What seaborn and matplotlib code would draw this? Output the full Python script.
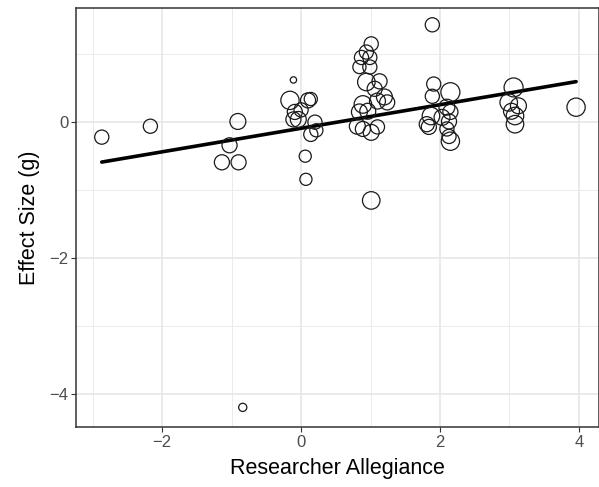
import numpy as np
import pandas as pd
import matplotlib
matplotlib.use("Agg")
import matplotlib.pyplot as plt
from matplotlib.ticker import MultipleLocator
import seaborn as sns

# study-level data
allegiance = [-2.87, -2.17, -0.91, -1.03, -1.14, -0.90, -0.84,
              -0.11, -0.16, 0.10, 0.14, -0.09, 0.00, -0.11, -0.04, 0.20, 0.22, 0.14, 0.06, 0.07,
              1.01, 0.94, 0.87, 0.99, 0.84, 0.99, 0.94, 1.13, 1.06, 1.20, 0.89, 1.10, 1.24,
              0.84, 0.96, 0.81, 0.89, 1.01, 1.10, 1.01,
              1.89, 1.91, 1.89, 2.15, 2.10, 2.15, 1.87, 2.13, 2.03, 1.81, 1.84, 2.10, 2.13, 2.15,
              3.06, 2.99, 3.13, 3.08, 3.08, 3.03, 3.96]
effect_size = [-0.22, -0.06, 0.01, -0.34, -0.59, -0.59, -4.19,
               0.62, 0.32, 0.32, 0.34, 0.15, 0.18, 0.04, 0.04, 0.00, -0.12, -0.18, -0.50, -0.84,
               1.15, 1.03, 0.95, 0.95, 0.81, 0.81, 0.59, 0.60, 0.49, 0.37, 0.26, 0.31, 0.29,
               0.15, 0.16, -0.06, -0.10, -0.15, -0.07, -1.15,
               1.43, 0.56, 0.38, 0.44, 0.22, 0.15, 0.09, 0.01, 0.07, -0.03, -0.07, -0.10, -0.21, -0.28,
               0.51, 0.29, 0.24, 0.09, -0.03, 0.16, 0.22]
weight = [6, 6, 7, 6.5, 6.5, 6.5, 3.5,
          3, 8.5, 6.5, 5.5, 6.5, 6, 6.5, 7, 6, 5.5, 6, 5, 5,
          6, 6, 6, 6, 5.5, 6, 8, 6.5, 6.5, 7, 8, 7, 6.5,
          7, 7, 7, 6.5, 7, 6, 8,
          6, 6, 6, 9, 7, 6.5, 8, 6.5, 7, 6.5, 6.5, 6, 6, 8.5,
          9, 8, 7, 8, 8, 7, 8.5]

# meta-regression fit
fit_intercept = -0.09
fit_slope = 0.173

df = pd.DataFrame({"allegiance": allegiance, "g": effect_size, "w": weight})

sns.set_theme(style="white")
plt.rcParams["font.family"] = ["Liberation Sans", "DejaVu Sans"]

fig = plt.figure(figsize=(5.99, 4.87), dpi=100)
ax = fig.add_axes([0.127, 0.123, 0.873, 0.861])

# grid like ggplot theme_bw
ax.xaxis.set_major_locator(MultipleLocator(2))
ax.xaxis.set_minor_locator(MultipleLocator(1))
ax.yaxis.set_major_locator(MultipleLocator(2))
ax.yaxis.set_minor_locator(MultipleLocator(1))
ax.grid(which="major", color="#E6E6E6", linewidth=1.2)
ax.grid(which="minor", color="#EBEBEB", linewidth=0.7)
ax.set_axisbelow(True)

# regression line over the data range
line_x = np.array([df["allegiance"].min(), df["allegiance"].max()])
line = pd.DataFrame({"x": line_x, "y": fit_intercept + fit_slope * line_x})
sns.lineplot(data=line, x="x", y="y", color="black", linewidth=2.6, ax=ax, zorder=3)

r_lo, r_hi = 3, 9
sns.scatterplot(data=df, x="allegiance", y="g", size="w",
                sizes=((1.52 * r_lo) ** 2, (1.52 * r_hi) ** 2), size_norm=(r_lo, r_hi),
                facecolors="none", edgecolor="#1a1a1a", linewidth=0.9,
                legend=False, ax=ax, zorder=4)

ax.set_xlim(-3.24, 4.29)
ax.set_ylim(-4.48, 1.68)

for s in ax.spines.values():
    s.set_color("#333333")
    s.set_linewidth(1.1)

ax.tick_params(which="major", direction="out", length=3.5, width=0.8, color="#333333",
               labelcolor="#4D4D4D", labelsize=12, left=True, bottom=True, pad=2)
ax.tick_params(which="minor", length=0)

ax.set_xlabel("Researcher Allegiance", fontsize=15.5, color="black", labelpad=6)
ax.set_ylabel("Effect Size (g)", fontsize=15.5, color="black", labelpad=7)

fig.savefig("out.png", dpi=100)
